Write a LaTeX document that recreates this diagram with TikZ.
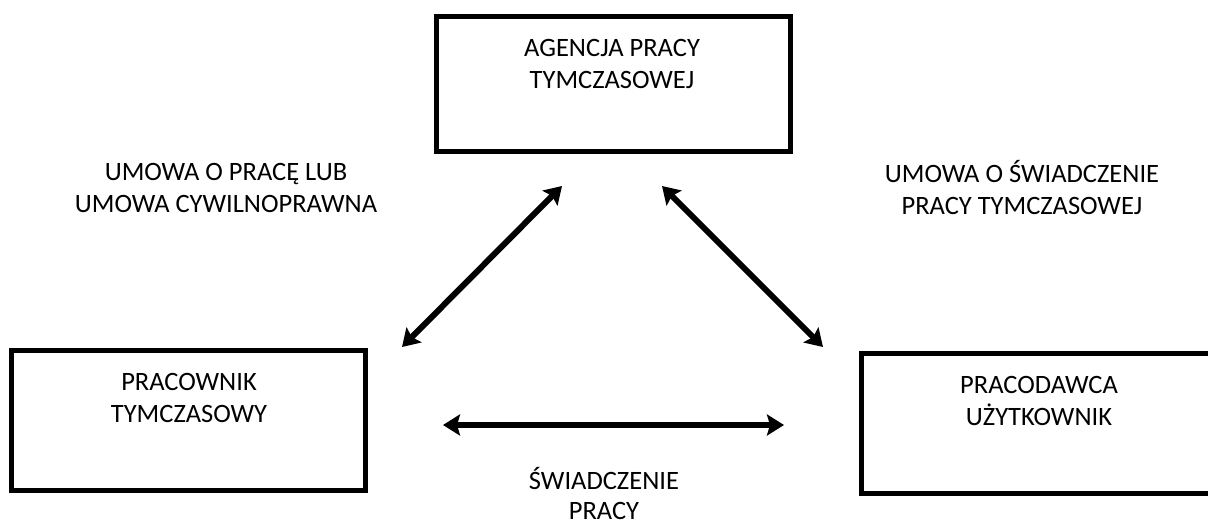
\documentclass[tikz,border=0pt]{standalone}
\usepackage{fontspec}
\setmainfont{Carlito}
\usetikzlibrary{arrows.meta}
\begin{document}
\begin{tikzpicture}[x=1pt,y=-1pt,
  frame/.style={line width=5pt},
  lbl/.style={align=center,font=\fontsize{26.5}{32}\selectfont,inner sep=0pt},
  link/.style={line width=6pt,{Stealth[length=17pt,width=21pt,inset=3pt]}-{Stealth[length=17pt,width=21pt,inset=3pt]}}]
\useasboundingbox (0,0) rectangle (1208,524);
\begin{scope}
\clip (0,0) rectangle (1208,524);
\draw[frame] (436.5,16.5) rectangle (790.5,151.5);
\draw[frame] (11.5,350.5) rectangle (365.5,490.5);
\draw[frame] (861.5,353.5) rectangle (1220,493.5);
\end{scope}
\node[lbl] (agency) at (612,64) {AGENCJA PRACY\\TYMCZASOWEJ};
\node[lbl] (worker) at (189,398) {PRACOWNIK\\TYMCZASOWY};
\node[lbl] (user) at (1039,401) {PRACODAWCA\\UŻYTKOWNIK};
\node[lbl] (l1) at (226,188) {UMOWA O PRACĘ LUB\\UMOWA CYWILNOPRAWNA};
\node[lbl] (l2) at (1022,188) {UMOWA O ŚWIADCZENIE\\PRACY TYMCZASOWEJ};
\node[lbl,font=\fontsize{26.5}{30}\selectfont,anchor=base] (l3) at (604,519) {ŚWIADCZENIE\\PRACY};
\coordinate (a1) at (402,347);
\coordinate (a2) at (562,186);
\coordinate (b1) at (662,186);
\coordinate (b2) at (823,347);
\coordinate (c1) at (443,425);
\coordinate (c2) at (784,425);
\draw[link] (a1) -- (a2);
\draw[link] (b1) -- (b2);
\draw[link] (c1) -- (c2);
\end{tikzpicture}
\end{document}
